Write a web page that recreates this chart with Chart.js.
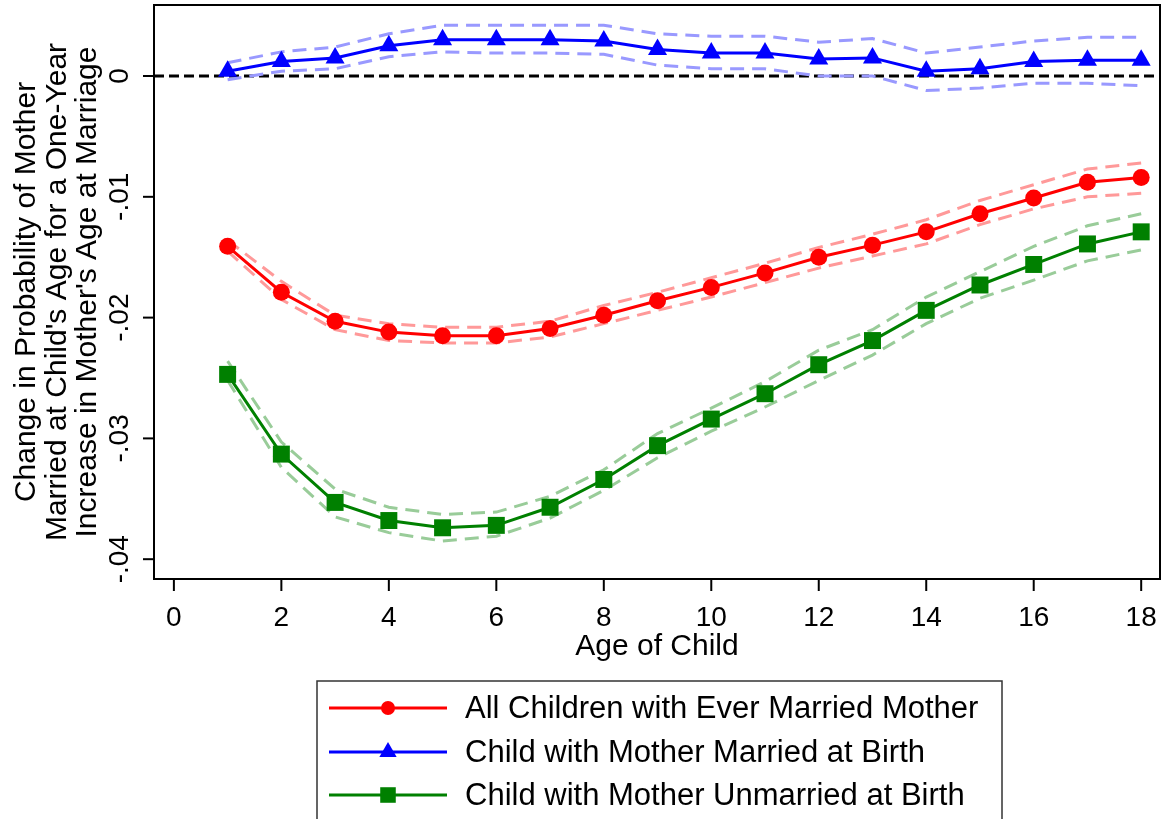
<!DOCTYPE html>
<html lang="en">
<head>
    <meta charset="UTF-8">
    <title>Change in Probability of Mother Married by Age of Child</title>
    <script src="https://cdn.jsdelivr.net/npm/chart.js"></script>
    <style>
        body, html {
            margin: 0;
            padding: 0;
            background: #ffffff;
            overflow: hidden;
        }
        .chart-box {
            width: 1167px;
            height: 819px;
        }
    </style>
</head>
<body>
    <div class="chart-box">
        <canvas id="ageChart"></canvas>
    </div>
    <script>
        // age of child (x categories)
        const ages = [1, 2, 3, 4, 5, 6, 7, 8, 9, 10, 11, 12, 13, 14, 15, 16, 17, 18];

        // All children with ever married mother
        const allEst = [-0.0141, -0.0179, -0.0203, -0.0212, -0.0215, -0.0215, -0.0209, -0.0198, -0.0186, -0.0175,
                        -0.0163, -0.0150, -0.0140, -0.0129, -0.0114, -0.0101, -0.0088, -0.0084];
        const allHi  = [-0.0136, -0.0170, -0.0198, -0.0205, -0.0208, -0.0208, -0.0203, -0.0190, -0.0179, -0.0167,
                        -0.0155, -0.0142, -0.0131, -0.0119, -0.0103, -0.0090, -0.0077, -0.0072];
        const allLo  = [-0.0145, -0.0185, -0.0210, -0.0219, -0.0221, -0.0221, -0.0216, -0.0205, -0.0194, -0.0183,
                        -0.0171, -0.0159, -0.0149, -0.0139, -0.0123, -0.0110, -0.0100, -0.0097];

        // Child with mother married at birth
        const marEst = [0.0004, 0.0012, 0.0015, 0.0025, 0.0030, 0.0030, 0.0030, 0.0029, 0.0022, 0.0019,
                        0.0019, 0.0014, 0.0015, 0.0004, 0.0006, 0.0012, 0.0013, 0.0013];
        const marHi  = [0.0011, 0.0020, 0.0024, 0.0035, 0.0042, 0.0042, 0.0042, 0.0042, 0.0035, 0.0033,
                        0.0033, 0.0028, 0.0031, 0.0019, 0.0024, 0.0029, 0.0032, 0.0032];
        const marLo  = [-0.0003, 0.0004, 0.0006, 0.0016, 0.0020, 0.0019, 0.0019, 0.0018, 0.0009, 0.0006,
                        0.0006, 0.0000, 0.0000, -0.0012, -0.0010, -0.0006, -0.0006, -0.0008];

        // Child with mother unmarried at birth
        const unmEst = [-0.0247, -0.0313, -0.0353, -0.0368, -0.0374, -0.0372, -0.0357, -0.0334, -0.0306, -0.0284,
                        -0.0263, -0.0239, -0.0219, -0.0194, -0.0173, -0.0156, -0.0139, -0.0129];
        const unmHi  = [-0.0236, -0.0303, -0.0342, -0.0357, -0.0363, -0.0361, -0.0348, -0.0326, -0.0296, -0.0275,
                        -0.0253, -0.0227, -0.0210, -0.0183, -0.0162, -0.0141, -0.0124, -0.0114];
        const unmLo  = [-0.0252, -0.0324, -0.0365, -0.0378, -0.0385, -0.0381, -0.0366, -0.0343, -0.0316, -0.0294,
                        -0.0274, -0.0252, -0.0231, -0.0205, -0.0184, -0.0169, -0.0153, -0.0144];

        const xTicks = [0, 2, 4, 6, 8, 10, 12, 14, 16, 18];
        const yTicks = [0, -0.01, -0.02, -0.03, -0.04];
        const yTickLabels = ['0', '-.01', '-.02', '-.03', '-.04'];

        const seriesNames = [
            'All Children with Ever Married Mother',
            'Child with Mother Married at Birth',
            'Child with Mother Unmarried at Birth'
        ];
        const yTitleLines = [
            'Change in Probability of Mother',
            "Married at Child's Age for a One-Year",
            "Increase in Mother's Age at Marriage"
        ];
        const xTitle = 'Age of Child';

        const FONT = "'Liberation Sans', Arial, Helvetica, sans-serif";

        const pts = vals => ages.map((a, i) => ({ x: a, y: vals[i] }));

        function mainLine(label, vals, color, style, radius) {
            return {
                label: label, data: pts(vals), order: 0,
                borderColor: color, backgroundColor: color, borderWidth: 3,
                pointStyle: style, pointRadius: radius, pointBorderWidth: 0,
                pointBackgroundColor: color, tension: 0
            };
        }
        function ciLine(vals, color) {
            return {
                label: '', data: pts(vals), order: 1,
                borderColor: color, borderWidth: 3, borderDash: [14, 8],
                pointRadius: 0, tension: 0
            };
        }

        const legendItems = [
            { color: '#ff0000', style: 'circle', radius: 7 },
            { color: '#0000ff', style: 'triangle', radius: 10 },
            { color: '#008000', style: 'rect', radius: 11 }
        ];

        // draws axes, zero line, titles and the legend box
        const decorations = {
            id: 'decorations',
            beforeDatasetsDraw(chart) {
                const { ctx, chartArea: area, scales: { y } } = chart;
                ctx.save();
                ctx.strokeStyle = '#000';
                ctx.lineWidth = 3;
                ctx.setLineDash([10, 5]);
                const y0 = y.getPixelForValue(0);
                ctx.beginPath();
                ctx.moveTo(area.left, y0);
                ctx.lineTo(area.right, y0);
                ctx.stroke();
                ctx.restore();
            },
            afterDraw(chart) {
                const { ctx, chartArea: area, scales: { x, y } } = chart;
                ctx.save();
                ctx.strokeStyle = '#000';
                ctx.lineWidth = 2;
                ctx.setLineDash([]);
                ctx.strokeRect(area.left, area.top, area.right - area.left, area.bottom - area.top);

                // x ticks
                ctx.fillStyle = '#000';
                ctx.font = '28px ' + FONT;
                ctx.textAlign = 'center';
                ctx.textBaseline = 'alphabetic';
                xTicks.forEach(t => {
                    const px = x.getPixelForValue(t);
                    ctx.beginPath();
                    ctx.moveTo(px, area.bottom);
                    ctx.lineTo(px, area.bottom + 12);
                    ctx.stroke();
                    ctx.fillText(String(t), px, 626);
                });

                // y ticks (rotated labels)
                yTicks.forEach((t, i) => {
                    const py = y.getPixelForValue(t);
                    ctx.beginPath();
                    ctx.moveTo(area.left - 11, py);
                    ctx.lineTo(area.left, py);
                    ctx.stroke();
                    ctx.save();
                    ctx.translate(128, py);
                    ctx.rotate(-Math.PI / 2);
                    ctx.fillText(yTickLabels[i], 0, 0);
                    ctx.restore();
                });

                // axis titles
                ctx.font = '30px ' + FONT;
                ctx.fillText(xTitle, (area.left + area.right) / 2, 655);
                const baseX = [35, 65.5, 96];
                yTitleLines.forEach((line, i) => {
                    ctx.save();
                    ctx.translate(baseX[i], (area.top + area.bottom) / 2);
                    ctx.rotate(-Math.PI / 2);
                    ctx.fillText(line, 0, 0);
                    ctx.restore();
                });

                // legend
                ctx.strokeStyle = '#333';
                ctx.lineWidth = 1.5;
                ctx.strokeRect(317, 681, 685, 160);
                const rows = [708, 752, 795];
                ctx.font = '31px ' + FONT;
                ctx.textAlign = 'left';
                ctx.textBaseline = 'middle';
                legendItems.forEach((item, i) => {
                    const ry = rows[i];
                    ctx.strokeStyle = item.color;
                    ctx.lineWidth = 3;
                    ctx.beginPath();
                    ctx.moveTo(329, ry);
                    ctx.lineTo(447, ry);
                    ctx.stroke();
                    ctx.fillStyle = item.color;
                    Chart.helpers.drawPoint(ctx, { pointStyle: item.style, radius: item.radius, rotation: 0, borderWidth: 0 }, 388, ry);
                    ctx.fillStyle = '#000';
                    ctx.fillText(seriesNames[i], 465, ry + 1);
                });
                ctx.restore();
            }
        };

        new Chart(document.getElementById('ageChart'), {
            type: 'line',
            data: {
                datasets: [
                    mainLine(seriesNames[0], allEst, '#ff0000', 'circle', 8.5),
                    mainLine(seriesNames[1], marEst, '#0000ff', 'triangle', 11),
                    mainLine(seriesNames[2], unmEst, '#008000', 'rect', 12),
                    ciLine(allHi, '#ff9999'), ciLine(allLo, '#ff9999'),
                    ciLine(marHi, '#9999ff'), ciLine(marLo, '#9999ff'),
                    ciLine(unmHi, '#99cc99'), ciLine(unmLo, '#99cc99')
                ]
            },
            options: {
                responsive: true,
                maintainAspectRatio: false,
                animation: false,
                layout: { autoPadding: false, padding: { left: 154, right: 7, top: 5, bottom: 240 } },
                plugins: { legend: { display: false }, tooltip: { enabled: false } },
                scales: {
                    x: { type: 'linear', min: -0.37, max: 18.35, display: false },
                    y: { type: 'linear', min: -0.04164, max: 0.00588, display: false }
                }
            },
            plugins: [decorations]
        });
    </script>
</body>
</html>
